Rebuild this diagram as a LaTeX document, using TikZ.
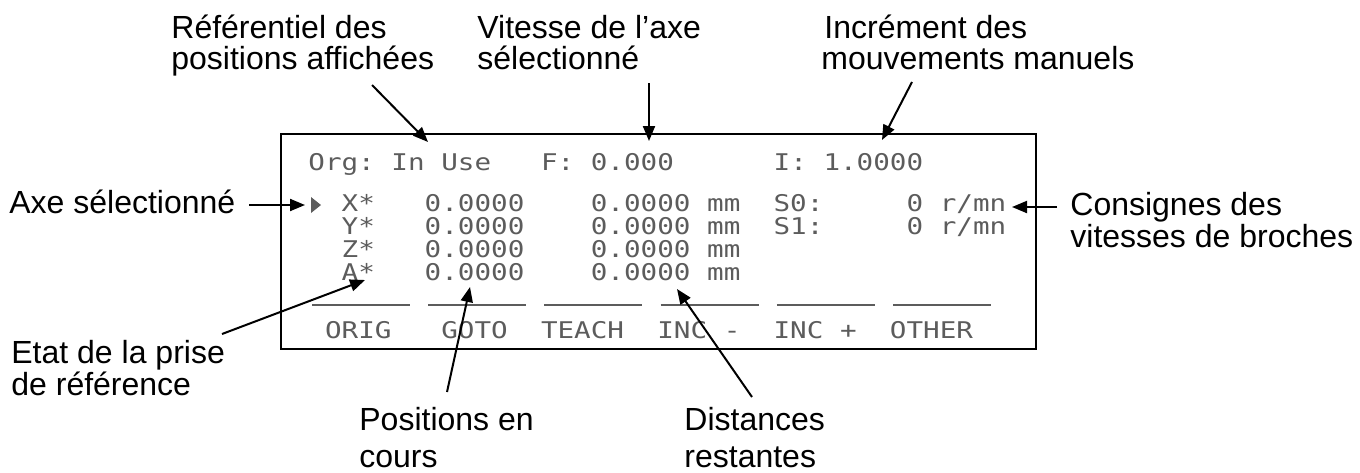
\documentclass[tikz,border=0pt]{standalone}
\usepackage{fontspec}
\usepackage{graphicx}
\setmainfont{Liberation Sans}
\newfontfamily\lcdfont{DejaVu Sans Mono}
\usetikzlibrary{arrows.meta}
\definecolor{lcdgray}{rgb}{0.36,0.36,0.36}
\newcommand{\lcdrow}[1]{\scalebox{1.2}[1]{#1}}
\begin{document}
\begin{tikzpicture}[x=0.5pt,y=-0.5pt,
  lbl/.style={anchor=base west, inner sep=0pt, font=\fontsize{16}{18}\selectfont},
  lcdtxt/.style={anchor=base west, inner sep=0pt, text=lcdgray, font=\fontsize{11.5}{13}\lcdfont},
  ptr/.style={draw=black, line width=1pt, -{Triangle[length=7.5pt,width=6pt]}},
  screen/.style={draw=black, line width=1pt},
  softline/.style={draw=lcdgray, line width=1pt}
]
\useasboundingbox (0,0) rectangle (1360,472);

% screen frame
\draw[screen] (281,134) rectangle (1036,349);

% LCD content
\node[lcdtxt] (r0) at (308,170) {\lcdrow{Org:~In~Use~~~F:~0.000~~~~~~I:~1.0000}};
\node[lcdtxt] (rx) at (308,211) {\lcdrow{~~X*~~~0.0000~~~~0.0000~mm~~S0:~~~~~0~r/mn}};
\node[lcdtxt] (ry) at (308,234) {\lcdrow{~~Y*~~~0.0000~~~~0.0000~mm~~S1:~~~~~0~r/mn}};
\node[lcdtxt] (rz) at (308,257) {\lcdrow{~~Z*~~~0.0000~~~~0.0000~mm}};
\node[lcdtxt] (ra) at (308,280) {\lcdrow{~~A*~~~0.0000~~~~0.0000~mm}};
\node[lcdtxt] (rs) at (308,338) {\lcdrow{~ORIG~~~GOTO~~TEACH~~INC~-~~INC~+~~OTHER}};
\fill[lcdgray] (311,197) -- (321,205) -- (311,213) -- cycle;
\foreach \k in {0,...,5}{
  \draw[softline] ({312+116.2*\k},305) -- ({410+116.2*\k},305);
}

% labels
\node[lbl] (ref1) at (171,38) {Référentiel des};
\node[lbl] (ref2) at (171,69) {positions affichées};
\node[lbl] (vit1) at (477,38) {Vitesse de l’axe};
\node[lbl] (vit2) at (477,69) {sélectionné};
\node[lbl] (inc1) at (824,38) {Incrément des};
\node[lbl] (inc2) at (821,69) {mouvements manuels};
\node[lbl] (axe) at (9,213) {Axe sélectionné};
\node[lbl] (con1) at (1070,215) {Consignes des};
\node[lbl] (con2) at (1070,247) {vitesses de broches};
\node[lbl] (eta1) at (11,363) {Etat de la prise};
\node[lbl] (eta2) at (11,395) {de référence};
\node[lbl] (pos1) at (359,430) {Positions en};
\node[lbl] (pos2) at (359,467) {cours};
\node[lbl] (dis1) at (684,430) {Distances};
\node[lbl] (dis2) at (684,467) {restantes};

% connector end points
\coordinate (refS) at (372,85);  \coordinate (refT) at (428,142);
\coordinate (vitS) at (649,83);  \coordinate (vitT) at (649,141);
\coordinate (incS) at (912,82);  \coordinate (incT) at (882,140);
\coordinate (axeS) at (249,205); \coordinate (axeT) at (305,205);
\coordinate (conS) at (1057,207); \coordinate (conT) at (1012,207);
\coordinate (etaS) at (222,334); \coordinate (etaT) at (365,280);
\coordinate (posS) at (447,392); \coordinate (posT) at (470,287);
\coordinate (disS) at (752,397); \coordinate (disT) at (677,289);

\draw[ptr] (refS) -- (refT);
\draw[ptr] (vitS) -- (vitT);
\draw[ptr] (incS) -- (incT);
\draw[ptr] (axeS) -- (axeT);
\draw[ptr] (conS) -- (conT);
\draw[ptr] (etaS) -- (etaT);
\draw[ptr] (posS) -- (posT);
\draw[ptr] (disS) -- (disT);
\end{tikzpicture}
\end{document}
